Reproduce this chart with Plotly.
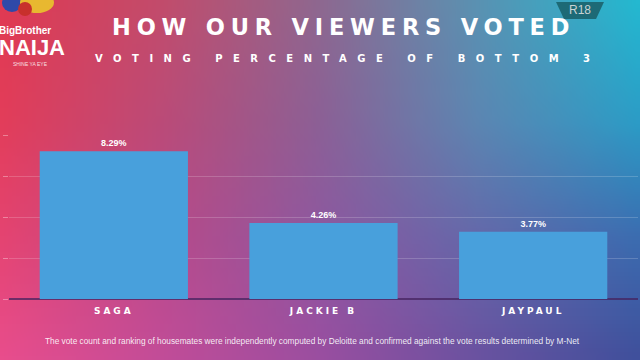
import plotly.graph_objects as go
import zlib, struct, base64

# ---- data ----
names = ["SAGA", "JACKIE B", "JAYPAUL"]
votes = [8.29, 4.26, 3.77]
vote_labels = ["8.29%", "4.26%", "3.77%"]
title_text = "HOW OUR VIEWERS VOTED"
subtitle_text = "VOTING PERCENTAGE OF BOTTOM 3"
footer_text = ("The vote count and ranking of housemates were independently computed by "
               "Deloitte and confirmed against the vote results determined by M-Net")

W, H = 640, 360

# ---- background gradient (styling) ----
ctrl = [
    ["#e03a52", "#c24c6c", "#8e6890", "#5a92b2", "#24b8d0"],
    ["#e23d5a", "#bb4b78", "#8c6096", "#5c86b2", "#2c9cc6"],
    ["#e44472", "#b84a8a", "#8e58a0", "#6468aa", "#3c6cb0"],
    ["#e84d8c", "#c24c98", "#9a4ea0", "#6a52a0", "#40509c"],
]
def hx(c):
    return [int(c[i:i + 2], 16) for i in (1, 3, 5)]
cg = [[hx(c) for c in r] for r in ctrl]
GW, GH = 80, 45
rows = []
for j in range(GH):
    fy = j / (GH - 1) * (len(cg) - 1)
    j0 = min(int(fy), len(cg) - 2); ty = fy - j0
    row = []
    for i in range(GW):
        fx = i / (GW - 1) * (len(cg[0]) - 1)
        i0 = min(int(fx), len(cg[0]) - 2); tx = fx - i0
        px = []
        for k in range(3):
            a = cg[j0][i0][k] * (1 - tx) + cg[j0][i0 + 1][k] * tx
            b = cg[j0 + 1][i0][k] * (1 - tx) + cg[j0 + 1][i0 + 1][k] * tx
            px.append(int(round(a * (1 - ty) + b * ty)))
        row.append(px)
    rows.append(row)

def png_uri(rows):
    h = len(rows); w = len(rows[0])
    raw = b"".join(b"\x00" + bytes([c for p in r for c in p]) for r in rows)
    def chunk(t, d):
        return struct.pack(">I", len(d)) + t + d + struct.pack(">I", zlib.crc32(t + d) & 0xffffffff)
    png = (b"\x89PNG\r\n\x1a\n" + chunk(b"IHDR", struct.pack(">IIBBBBB", w, h, 8, 2, 0, 0, 0))
           + chunk(b"IDAT", zlib.compress(raw)) + chunk(b"IEND", b""))
    return "data:image/png;base64," + base64.b64encode(png).decode()

def px_x(x):
    return x / W
def px_y(y):
    return 1 - y / H

def spaced(t, sp):
    return f'<span style="letter-spacing:{sp}px">{t}</span>'

fig = go.Figure()
fig.add_trace(go.Bar(
    x=list(range(len(names))), y=votes, text=vote_labels, textposition="outside",
    textfont=dict(family="Liberation Sans Narrow, Liberation Sans", size=9, color="white", weight="bold"),
    marker=dict(color="#48a0dc", line=dict(width=0)), cliponaxis=False, hoverinfo="skip",
))

fig.update_layout(
    width=W, height=H, margin=dict(l=0, r=0, t=0, b=0),
    paper_bgcolor="#8c5a96", plot_bgcolor="rgba(0,0,0,0)", showlegend=False,
    bargap=0.293,
    images=[dict(source=png_uri(rows), xref="paper", yref="paper", x=0, y=1, sizex=1, sizey=1,
                 sizing="stretch", layer="below", xanchor="left", yanchor="top")],
    xaxis=dict(domain=[9 / W, 638 / W], range=[-0.5, 2.5], tickvals=list(range(len(names))),
               ticktext=[spaced(n, 3) for n in names], showgrid=False, zeroline=False,
               tickfont=dict(family="DejaVu Sans", size=9, color="white", weight="bold"),
               ticks="", ticklabelstandoff=5, fixedrange=True),
    yaxis=dict(domain=[(H - 299) / H, (H - 135) / H], range=[0, 9.2], tick0=0, dtick=2.3,
               showticklabels=False, gridcolor="rgba(255,255,255,0.18)", gridwidth=1,
               zeroline=True, zerolinecolor="rgba(70,35,95,0.75)", zerolinewidth=1.5,
               ticks="outside", ticklen=5, tickcolor="rgba(255,255,255,0.35)", fixedrange=True),
)

ann = []
ann.append(dict(text=spaced(title_text, 5.8), x=px_x(343), y=px_y(27), xref="paper", yref="paper",
                showarrow=False, xanchor="center", yanchor="middle",
                font=dict(family="DejaVu Sans", size=22.5, color="white", weight="bold")))
ann.append(dict(text=spaced(subtitle_text, 10.5), x=px_x(348), y=px_y(59), xref="paper", yref="paper",
                showarrow=False, xanchor="center", yanchor="middle",
                font=dict(family="DejaVu Sans", size=10, color="white", weight="bold")))
ann.append(dict(text=footer_text, x=px_x(312), y=px_y(341), xref="paper", yref="paper",
                showarrow=False, xanchor="center", yanchor="middle",
                font=dict(family="Liberation Sans", size=8.3, color="rgba(255,255,255,0.9)")))
# logo text
ann.append(dict(text="BigBrother", x=px_x(25), y=px_y(30), xref="paper", yref="paper",
                showarrow=False, xanchor="center", yanchor="middle",
                font=dict(family="Liberation Sans Narrow, Liberation Sans", size=10, color="white", weight="bold")))
ann.append(dict(text="NAIJA", x=px_x(32), y=px_y(48), xref="paper", yref="paper",
                showarrow=False, xanchor="center", yanchor="middle",
                font=dict(family="Liberation Sans Narrow, Liberation Sans", size=22, color="white", weight="bold")))
ann.append(dict(text="SHINE YA EYE", x=px_x(30), y=px_y(64), xref="paper", yref="paper",
                showarrow=False, xanchor="center", yanchor="middle",
                font=dict(family="Liberation Sans", size=5, color="rgba(255,255,255,0.85)")))
ann.append(dict(text="R18", x=px_x(580), y=px_y(10), xref="paper", yref="paper",
                showarrow=False, xanchor="center", yanchor="middle",
                font=dict(family="Liberation Sans Narrow, Liberation Sans", size=12, color="#c9d3d4")))
fig.update_layout(annotations=ann)

def pth(pts):
    return "M " + " L ".join(f"{px_x(x):.4f},{px_y(y):.4f}" for x, y in pts) + " Z"

shapes = [
    # R18 badge
    dict(type="path", xref="paper", yref="paper", path=pth([(556, 2), (604, 2), (596, 19), (564, 19)]),
         fillcolor="#1d6a76", line=dict(width=0), layer="below"),
    # logo balls
    dict(type="circle", xref="paper", yref="paper", x0=px_x(2), x1=px_x(22), y0=px_y(12), y1=px_y(-6),
         fillcolor="#2f49a8", line=dict(width=0)),
    dict(type="circle", xref="paper", yref="paper", x0=px_x(20), x1=px_x(54), y0=px_y(13), y1=px_y(-8),
         fillcolor="#e8b830", line=dict(width=0)),
    dict(type="circle", xref="paper", yref="paper", x0=px_x(18), x1=px_x(32), y0=px_y(16), y1=px_y(2),
         fillcolor="#c8302c", line=dict(width=0)),
]
fig.update_layout(shapes=shapes)

fig.write_html("out.html", config={"displayModeBar": False},
               post_script="document.body.style.margin='0';document.body.style.overflow='hidden';")
